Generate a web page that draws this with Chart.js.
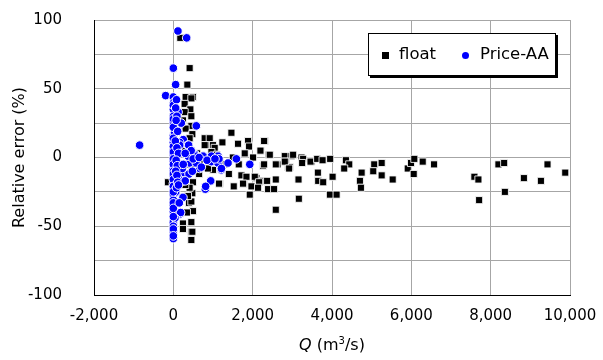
<!DOCTYPE html>
<html>
<head>
<meta charset="utf-8">
<script src="https://cdn.jsdelivr.net/npm/chart.js@4"></script>
<style>
    html, body { margin: 0; padding: 0; background: #fff; }
    #wrap { position: relative; width: 603px; height: 360px; font-family: "DejaVu Sans", Verdana, sans-serif; }
    #legend {
        position: absolute; left: 368px; top: 33px; width: 186px; height: 41px;
        background: #fff; border: 1px solid #000; box-shadow: 2px 2px 0 #000;
        font-size: 16.5px; color: #000;
    }
    #legend span { position: absolute; top: 10px; white-space: nowrap; }
    .mk-rect { position: absolute; top: 18px; width: 7px; height: 7px; background: #000; }
    .mk-dot { position: absolute; top: 18px; width: 7px; height: 7px; border-radius: 50%; background: #0000ff; }
    #xtitle { position: absolute; top: 335px; left: 0; width: 664px; text-align: center; font-size: 16px; color: #000; }
    #xtitle sup { font-size: 10px; }
</style>
</head>
<body>
<div id="wrap">
    <canvas id="c" width="603" height="360"></canvas>
    <div id="legend">
        <div class="mk-rect" style="left:13px"></div><span style="left:30px">float</span>
        <div class="mk-dot" style="left:93px"></div><span style="left:111px">Price-AA</span>
    </div>
    <div id="xtitle"><i>Q</i>&nbsp;(m<sup>3</sup>/s)</div>
</div>
<script>
// float series (black squares)
const floatQ = [
    176, 411, 353, 310, 495, 454, 285, 429, 285, 454, 243, 454, 310, 479, 411, 790, 917, 833, 1000, 790,
    1043, 1237, 1464, 1631, 1901, 1884, 2305, 2288, 1909, 2204, 2196, 2406, 2432, 2010, 2810, 2979, 3020, 3232, 3272, 3484,
    960, 1000, 874, 1170, 1151, 495, 479, 395, 411, -136, 1523, 1717, 1927, 1776, 2096, 2262, 2389, 2540, 2583, 2262,
    2626, 2894, 2583, 2836, 2288, 2936, 1843, 2053, 2162, 2364, 2583, 3146, 1757, 1970, 2136, 2810, 2919, 3247, 3459, 3626,
    3762, 3954, 3156, 3644, 3652, 3778, 4015, 3164, 3947, 4116, 4351, 4435, 4308, 4747, 4704, 4729, 5065, 5252, 5040, 5252,
    5530, 5909, 5992, 6075, 6287, 6573, 6060, 7590, 7691, 7709, 8196, 8340, 8358, 8838, 9267, 9433, 9880, 454, 454, 454,
    495, 343, 243, 243, 479, 454, 370, 300, 350, 250, 400, 600, 700, 650, 550, 300, 1300, 1400, 1100, 1500,
    1650, 1800
];
const floatErr = [
    87, 65, 53, 44, 44, 43, 39, 35, 33, 30, 27, 23, 21, 17, 14, 14, 14, 9, 9, 9,
    7, 11, 18, 10, 9, 12, 12, 12, 8, 5, 5, 2, 2, 0, 1, 1, 2, 0, -1, -3,
    4, -9, -8, -19, -19, -18, -26, -33, -22, -18, -21, -13, -27, -19, -15, -17, -23, -23, -38, -6,
    -5, -7, -5, -3, -5, -7, -14, -14, -18, -17, -16, -16, -19, -21, -22, -3, -8, -4, -3, -1,
    -2, -1, -16, -11, -17, -18, -14, -30, -27, -27, -2, -5, -8, -11, -17, -22, -5, -4, -10, -13,
    -16, -8, -4, -1, -3, -5, -12, -14, -16, -31, -5, -4, -25, -15, -17, -5, -11, -60, -54, -47,
    -39, -40, -48, -52, -54, -32, -28, 5, -5, -12, 0, 3, -3, -12, -8, -20, -5, -12, 2, 0,
    -5, 3
];

// Price-AA series (blue circles)
const priceQ = [
    116, 336, 0, 58, -194, 0, 10, 0, 120, 0, 0, 200, 580, 20, 0, 250, 160, 0, 370, 0,
    160, 386, -850, 0, 344, 563, 773, 959, 1126, 1126, 1379, 1590, 1927, 1212, 664, 243, 942, 807, 243, 176,
    0, 0, 0, 0, 184, 0, 0, 0, 0, 0, 0, 411, 580, 707, 226, 395, 243, 815, 1212, 1151,
    960, 748, 580, 370, 60, 0, 0, 40, 0, 30, 100, 80, 120, 60,
    0, 0, 0, 0, 0, 0, 0, 0, 0, 0, 0, 0, 0, 0, 0, 0, 0, 0,
    80, 60, 90, 70, 110, 50, 90, 130, 70, 100, 60, 90, 110, 80,
    450, 500, 300, 250, 650, 850, 1050, 480, 300, 150, 130
];
const priceErr = [
    92, 87, 65, 53, 45, 44, 40, 35, 33, 30, 26, 25, 23, 21, 16, 13, 11, 11, 9, 6,
    9, 9, 9, 2, 1, 2, 1, -3, 1, -4, -4, -1, -5, -9, -8, -12, -17, -23, -29, -41,
    -47, -54, -59, -39, -40, -19, -27, -31, -8, -14, -3, -4, -4, -7, -8, -12, -17, -21, -8, -1,
    1, 1, 1, 1, 0, -23, -35, -44, -50, 18, 5, -5, -15, -25,
    38, 28, 22, 14, 8, 4, -1, -5, -10, -12, -16, -21, -25, -33, -37, -43, -52, -57,
    42, 36, 30, 27, 19, 12, 7, 3, -2, -6, -10, -13, -18, -22,
    5, -1, 3, -5, 0, -2, -1, -10, -17, -33, -20
];

// axis ranges
const xMin = -2000, xMax = 10000, xStep = 2000;
const yMin = -100, yMax = 100, yStep = 25, yLabelStep = 50;

const toPoints = (xs, ys) => xs.map((x, i) => ({ x: x, y: ys[i] }));

const FONT = '"DejaVu Sans", Verdana, sans-serif';

new Chart(document.getElementById('c'), {
    type: 'scatter',
    data: {
        datasets: [
            {
                label: 'float',
                data: toPoints(floatQ, floatErr),
                pointStyle: 'rect',
                pointRadius: 5,
                backgroundColor: '#000000',
                borderColor: 'rgba(255, 255, 255, 0.85)',
                borderWidth: 1,
                order: 2,
            },
            {
                label: 'Price-AA',
                data: toPoints(priceQ, priceErr),
                pointStyle: 'circle',
                pointRadius: 4.3,
                backgroundColor: '#0000ff',
                borderColor: '#ffffff',
                borderWidth: 1,
                order: 1,
            },
        ],
    },
    options: {
        responsive: false,
        animation: false,
        layout: { padding: { left: 0, right: 33, top: 20, bottom: 0 } },
        plugins: {
            legend: { display: false },
            tooltip: { enabled: false },
        },
        scales: {
            x: {
                type: 'linear',
                min: xMin,
                max: xMax,
                // fixed box so the plot area lines up with the reference
                afterFit: (s) => { s.height = 65; s.paddingLeft = 0; s.paddingRight = 0; },
                grid: { color: '#a6a6a6', lineWidth: 1, drawTicks: false },
                border: { display: true, color: '#000', width: 1 },
                ticks: {
                    stepSize: xStep,
                    padding: 12,
                    color: '#000',
                    font: { family: FONT, size: 15 },
                    callback: (v) => v.toLocaleString('en-US'),
                },
            },
            y: {
                type: 'linear',
                min: yMin,
                max: yMax,
                afterFit: (s) => { s.width = 94; s.paddingTop = 0; s.paddingBottom = 0; },
                grid: { color: '#a6a6a6', lineWidth: 1, drawTicks: false },
                border: { display: true, color: '#000', width: 1 },
                ticks: {
                    stepSize: yStep,
                    padding: 32,
                    color: '#000',
                    font: { family: FONT, size: 15 },
                    callback: (v) => (v % yLabelStep === 0 ? String(v) : ''),
                },
                title: {
                    display: true,
                    text: 'Relative error (%)',
                    color: '#000',
                    font: { family: FONT, size: 16 },
                    padding: { top: 10, bottom: 0 },
                },
            },
        },
    },
});
</script>
</body>
</html>
